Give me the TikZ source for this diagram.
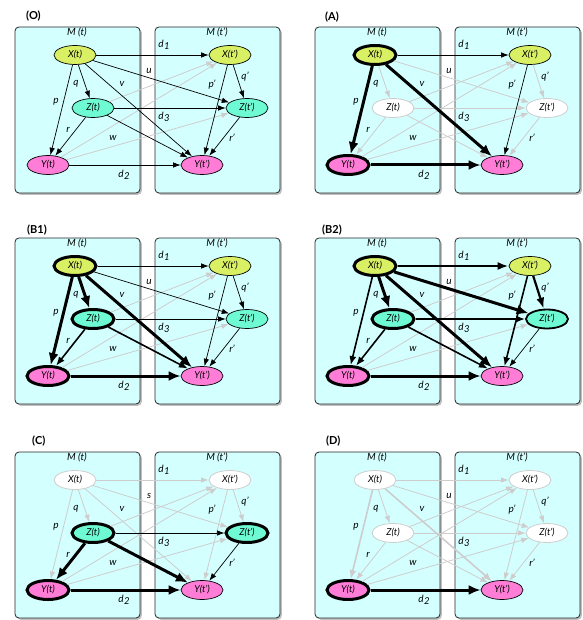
\documentclass[tikz,border=0pt]{standalone}
\usepackage{fontspec}
\setmainfont{Lato}
\usetikzlibrary{arrows.meta,shapes.geometric,shadows}

\definecolor{boxfill}{RGB}{212,255,255}
\definecolor{xfill}{RGB}{218,240,100}
\definecolor{zfill}{RGB}{110,250,210}
\definecolor{yfill}{RGB}{255,125,215}
\definecolor{faint}{RGB}{205,205,205}

\tikzset{
  model/.style={draw=black!85, line width=0.8pt, fill=boxfill, rounded corners=4pt,
    drop shadow={shadow xshift=1.8pt, shadow yshift=-1.8pt, opacity=0.5}},
  var/.style={ellipse, minimum width=42pt, minimum height=19pt, inner sep=0pt,
    font=\itshape\fontsize{9.5}{10}\selectfont},
  vplain/.style={var, draw=black, line width=0.7pt},
  vbold/.style={var, draw=black, line width=3pt},
  vmid/.style={var, draw=black, line width=1.8pt},
  voff/.style={var, draw=faint, line width=0.8pt, fill=white},
  xv/.style={fill=xfill}, zv/.style={fill=zfill}, yv/.style={fill=yfill},
  lab/.style={font=\itshape\fontsize{10}{11}\selectfont, inner sep=0pt},
  ttl/.style={font=\bfseries\fontsize{11}{12}\selectfont, anchor=west, inner sep=0pt},
  ethin/.style={draw=black, line width=0.7pt, -{Latex[length=7.5pt,width=5.5pt]}},
  emed/.style={draw=black, line width=1.6pt, -{Latex[length=9pt,width=7pt]}},
  estrong/.style={draw=black, line width=2.2pt, -{Latex[length=11pt,width=8pt]}},
  eheavy/.style={draw=black, line width=3pt, -{Latex[length=12pt,width=10pt]}},
  egrey/.style={draw=faint, line width=0.8pt, -{Latex[length=7.5pt,width=5.5pt]}},
  egreymed/.style={draw=faint, line width=1.6pt, -{Latex[length=9pt,width=7pt]}},
}

% subscripted d labels
\newcommand\dlab[1]{d\kern0.3pt\raisebox{-0.5ex}{\fontsize{9.5}{10}\selectfont #1}}
% the two model boxes and the panel title
\newcommand\modelboxes[3]{%
  \path[model] (15,27) rectangle (140,193);
  \path[model] (155,27) rectangle (280,193);
  \node[ttl] at (#2,#3) {#1};
}
% the six variables of a panel
\newcommand\vars[7]{%
  \node[#2] (#1X) at (75,55) {X(t)};
  \node[#3] (#1Z) at (93,108) {Z(t)};
  \node[#4] (#1Y) at (48,165) {Y(t)};
  \node[#5] (#1Xp) at (230,55) {X(t')};
  \node[#6] (#1Zp) at (247,108) {Z(t')};
  \node[#7] (#1Yp) at (202,165) {Y(t')};
}
% one edge of the current panel
\def\pfx{o}
\newcommand\edge[3]{\draw[#1] (\pfx #2) -- (\pfx #3);}
% edge and box labels
\newcommand\modellabels[1]{%
  \node[lab] at (77,32) {M (t)};
  \node[lab] at (217,32) {M (t')};
  \node[lab] at (164,45) {\dlab{1}};
  \node[lab] at (149,71) {#1};
  \node[lab] at (122,84) {v};
  \node[lab] at (76,84) {q};
  \node[lab] at (56,102) {p};
  \node[lab] at (212,85) {p'};
  \node[lab] at (245,77) {q'};
  \node[lab] at (164,117) {\dlab{3}};
  \node[lab] at (68,130) {r};
  \node[lab] at (113,138) {w};
  \node[lab] at (232,138) {r'};
  \node[lab] at (124,175) {\dlab{2}};
}

\begin{document}
\begin{tikzpicture}[x=1pt,y=-1pt]
\useasboundingbox (0,0) rectangle (582,620);

% ---------- (O) ----------
\begin{scope}
  \modelboxes{(O)}{26}{16}
  \vars{o}{vplain,xv}{vplain,zv}{vplain,yv}{vplain,xv}{vplain,zv}{vplain,yv}
  \def\pfx{o}
  \edge{egrey}{Z}{Xp} \edge{egrey}{Y}{Xp} \edge{egrey}{Y}{Zp}
  \edge{ethin}{X}{Z} \edge{ethin}{X}{Y} \edge{ethin}{Z}{Y}
  \edge{ethin}{Xp}{Zp} \edge{ethin}{Xp}{Yp} \edge{ethin}{Zp}{Yp}
  \edge{ethin}{X}{Xp} \edge{ethin}{Y}{Yp} \edge{ethin}{Z}{Zp}
  \edge{ethin}{X}{Zp} \edge{ethin}{X}{Yp} \edge{ethin}{Z}{Yp}
  \modellabels{u}
\end{scope}

% ---------- (A) ----------
\begin{scope}[shift={(300,0)}]
  \modelboxes{(A)}{25}{17}
  \vars{a}{vbold,xv}{voff}{vbold,yv}{vplain,xv}{voff}{vplain,yv}
  \def\pfx{a}
  \edge{egrey}{Z}{Xp} \edge{egrey}{Y}{Xp} \edge{egrey}{Y}{Zp}
  \edge{egrey}{X}{Z} \edge{egrey}{Z}{Y} \edge{egrey}{X}{Zp}
  \edge{egrey}{Z}{Zp} \edge{egrey}{Z}{Yp}
  \edge{egrey}{Xp}{Zp} \edge{egrey}{Zp}{Yp}
  \edge{ethin}{X}{Xp} \edge{ethin}{Xp}{Yp}
  \edge{eheavy}{X}{Y} \edge{eheavy}{X}{Yp} \edge{eheavy}{Y}{Yp}
  \modellabels{u}
\end{scope}

% ---------- (B1) ----------
\begin{scope}[shift={(0,211)}]
  \modelboxes{(B1)}{27}{19}
  \vars{b}{vbold,xv}{vbold,zv}{vbold,yv}{vplain,xv}{vplain,zv}{vplain,yv}
  \def\pfx{b}
  \edge{egrey}{Z}{Xp} \edge{egrey}{Y}{Xp} \edge{egrey}{Y}{Zp}
  \edge{ethin}{X}{Xp} \edge{ethin}{X}{Zp} \edge{ethin}{Z}{Zp}
  \edge{ethin}{Xp}{Zp} \edge{ethin}{Xp}{Yp} \edge{ethin}{Zp}{Yp}
  \edge{emed}{Z}{Y} \edge{emed}{Z}{Yp}
  \edge{eheavy}{X}{Y} \edge{eheavy}{X}{Z} \edge{eheavy}{X}{Yp} \edge{eheavy}{Y}{Yp}
  \modellabels{u}
\end{scope}

% ---------- (B2) ----------
\begin{scope}[shift={(300,211)}]
  \modelboxes{(B2)}{22}{19}
  \vars{bb}{vbold,xv}{vbold,zv}{vbold,yv}{vplain,xv}{vmid,zv}{vplain,yv}
  \def\pfx{bb}
  \edge{egrey}{Z}{Xp} \edge{egrey}{Y}{Xp} \edge{egrey}{Y}{Zp}
  \edge{ethin}{Zp}{Yp}
  \edge{emed}{X}{Y} \edge{emed}{Z}{Y} \edge{emed}{Z}{Zp} \edge{emed}{Z}{Yp}
  \edge{emed}{Xp}{Yp}
  \edge{estrong}{X}{Xp} \edge{estrong}{Xp}{Zp}
  \edge{eheavy}{X}{Z} \edge{eheavy}{X}{Zp} \edge{eheavy}{X}{Yp} \edge{eheavy}{Y}{Yp}
  \modellabels{u}
\end{scope}

% ---------- (C) ----------
\begin{scope}[shift={(0,425)}]
  \modelboxes{(C)}{32}{16}
  \vars{c}{voff}{vbold,zv}{vbold,yv}{voff}{vbold,zv}{vplain,yv}
  \def\pfx{c}
  \edge{egrey}{Z}{Xp} \edge{egrey}{Y}{Xp} \edge{egrey}{Y}{Zp}
  \edge{egrey}{X}{Xp} \edge{egrey}{X}{Zp} \edge{egrey}{X}{Yp}
  \edge{egrey}{X}{Z} \edge{egrey}{X}{Y}
  \edge{egrey}{Xp}{Zp} \edge{egrey}{Xp}{Yp}
  \edge{ethin}{Z}{Zp} \edge{ethin}{Zp}{Yp}
  \edge{eheavy}{Z}{Y} \edge{eheavy}{Z}{Yp} \edge{eheavy}{Y}{Yp}
  \modellabels{s}
\end{scope}

% ---------- (D) ----------
\begin{scope}[shift={(300,425)}]
  \modelboxes{(D)}{26}{16}
  \vars{d}{voff}{voff}{vbold,yv}{voff}{voff}{vplain,yv}
  \def\pfx{d}
  \edge{egrey}{Z}{Xp} \edge{egrey}{Y}{Xp} \edge{egrey}{Y}{Zp}
  \edge{egrey}{X}{Xp} \edge{egrey}{X}{Zp} \edge{egrey}{X}{Z}
  \edge{egrey}{Z}{Y} \edge{egrey}{Z}{Zp} \edge{egrey}{Z}{Yp}
  \edge{egrey}{Xp}{Zp} \edge{egrey}{Xp}{Yp} \edge{egrey}{Zp}{Yp}
  \edge{egreymed}{X}{Y} \edge{egreymed}{X}{Yp}
  \edge{eheavy}{Y}{Yp}
  \modellabels{u}
\end{scope}
\end{tikzpicture}
\end{document}
